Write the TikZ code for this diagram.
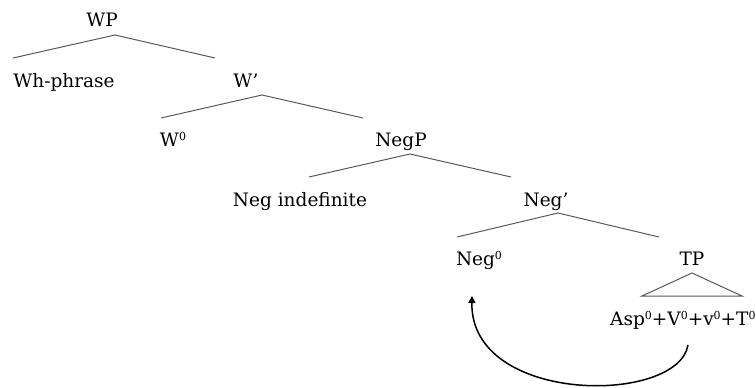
\documentclass[tikz,border=0pt]{standalone}
\usepackage{fontspec}
\setmainfont{DejaVu Serif}
\usetikzlibrary{arrows.meta}
\tikzset{
  lbl/.style={anchor=base, inner sep=0pt, font=\fontsize{18.5}{22}\selectfont, text=black},
  branch/.style={draw=black!65, line width=1pt},
  move/.style={draw=black, line width=1.5pt, -{Triangle[length=7pt,width=7pt]}}
}
\newcommand{\zr}{\raisebox{0.55ex}{\fontsize{11}{11}\selectfont 0}}
\begin{document}
\begin{tikzpicture}[x=1pt,y=-1pt]
\useasboundingbox (0,0) rectangle (756,388);
% nodes
\node[lbl] (wp) at (102,27) {WP};
\node[lbl] (wh) at (64,87) {Wh-phrase};
\node[lbl] (wbar) at (246,87) {W’};
\node[lbl] (w0) at (173,146) {W\zr};
\node[lbl] (negp) at (401,146) {NegP};
\node[lbl] (negind) at (300,206) {Neg indefinite};
\node[lbl] (negbar) at (546,206) {Neg’};
\node[lbl] (neg0) at (479,265) {Neg\zr};
\node[lbl] (tp) at (692,265) {TP};
\node[lbl, anchor=base west] (asp) at (610,325) {Asp\zr+V\zr+v\zr+T\zr};
% branch points
\coordinate (wpA) at (115,35);  \coordinate (wpL) at (13,58);  \coordinate (wpR) at (215,58);
\coordinate (wbA) at (262,95);  \coordinate (wbL) at (161,118); \coordinate (wbR) at (363,118);
\coordinate (npA) at (410,154); \coordinate (npL) at (309,177); \coordinate (npR) at (511,177);
\coordinate (nbA) at (558,213); \coordinate (nbL) at (457,237); \coordinate (nbR) at (659,237);
\coordinate (tpA) at (692,273); \coordinate (tpL) at (642,296); \coordinate (tpR) at (742,296);
\draw[branch] (wpL) -- (wpA) -- (wpR);
\draw[branch] (wbL) -- (wbA) -- (wbR);
\draw[branch] (npL) -- (npA) -- (npR);
\draw[branch] (nbL) -- (nbA) -- (nbR);
\draw[branch] (tpL) -- (tpA) -- (tpR) -- cycle;
% movement arrow
\coordinate (mvS) at (688,345);
\coordinate (mvE) at (472,296);
\draw[move] (mvS) .. controls (678,405) and (470,405) .. (mvE);
\end{tikzpicture}
\end{document}
